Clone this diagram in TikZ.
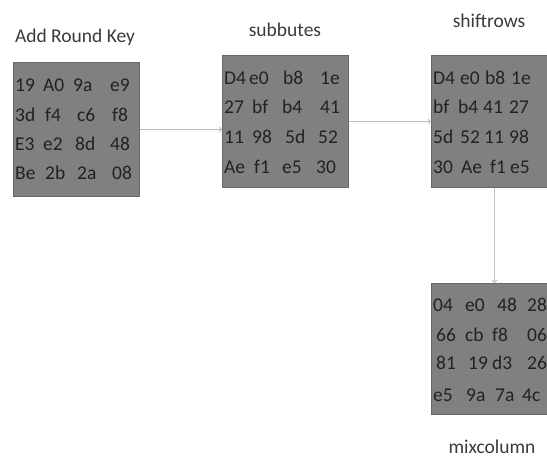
\documentclass[tikz,border=0pt]{standalone}
\usepackage{fontspec}
\setmainfont{Carlito}
\usetikzlibrary{arrows, positioning}
\definecolor{boxgray}{HTML}{808080}
\definecolor{edgegray}{HTML}{686868}
\definecolor{cellgray}{HTML}{222222}
\definecolor{titlegray}{HTML}{3A3A3A}
\definecolor{arrowgray}{HTML}{BEBEBE}

\begin{document}
\begin{tikzpicture}[x=1pt, y=-1pt,
    state/.style={draw=edgegray, fill=boxgray, line width=1pt, anchor=north west,
        inner sep=0pt, minimum width=126pt, minimum height=132pt},
    cell/.style={anchor=west, inner sep=0pt, text=cellgray, font=\fontsize{19.5}{21}\selectfont},
    title/.style={text=titlegray, font=\fontsize{19.5}{21}\selectfont},
    flow/.style={draw=arrowgray, line width=1.1pt, ->}]
    \useasboundingbox (0,0) rectangle (547,461);
    \clip (0,0) rectangle (547,461);

    % State boxes
    \node[state, minimum height=134pt] (addkey) at (13,62) {};
    \node[state] (subbytes) at (222,55) {};
    \node[state] (shiftrows) at (431,55) {};
    \node[state, minimum height=131pt] (mixcol) at (431,283) {};

    % Titles
    \node[title] (addkeyname) at (75,37) {Add Round Key};
    \node[title] (subbytesname) at (285,30) {subbutes};
    \node[title] (shiftrowsname) at (489,21) {shiftrows};
    \node[title] (mixcolname) at (492,447) {mixcolumn};

    % Arrows
    \draw[flow] (addkey.east) -- (addkey.east -| subbytes.west);
    \draw[flow] (subbytes.east) -- (subbytes.east -| shiftrows.west);
    \draw[flow] (shiftrows.south) -- (mixcol.north);

    % Add Round Key bytes
    \foreach \txt/\x [count=\i] in {19/15, A0/43, 9a/73, e9/110}
        \node[cell] (a1-\i) at (\x,85) {\txt};
    \foreach \txt/\x [count=\i] in {3d/15, f4/45, c6/77, f8/112}
        \node[cell] (a2-\i) at (\x,115) {\txt};
    \foreach \txt/\x [count=\i] in {E3/15, e2/43, 8d/75, 48/110}
        \node[cell] (a3-\i) at (\x,144) {\txt};
    \foreach \txt/\x [count=\i] in {Be/15, 2b/45, 2a/77, 08/112}
        \node[cell] (a4-\i) at (\x,173) {\txt};

    % subbutes bytes
    \foreach \txt/\x [count=\i] in {D4/224, e0/249, b8/283, 1e/320}
        \node[cell] (s1-\i) at (\x,78) {\txt};
    \foreach \txt/\x [count=\i] in {27/224, bf/252, b4/282, 41/320}
        \node[cell] (s2-\i) at (\x,107) {\txt};
    \foreach \txt/\x [count=\i] in {11/224, 98/252, 5d/285, 52/318}
        \node[cell] (s3-\i) at (\x,137) {\txt};
    \foreach \txt/\x [count=\i] in {Ae/224, f1/254, e5/282, 30/316}
        \node[cell] (s4-\i) at (\x,167) {\txt};

    % shiftrows bytes
    \foreach \txt/\x [count=\i] in {D4/433, e0/460, b8/485, 1e/511}
        \node[cell] (r1-\i) at (\x,78) {\txt};
    \foreach \txt/\x [count=\i] in {bf/433, b4/458, 41/483, 27/509}
        \node[cell] (r2-\i) at (\x,107) {\txt};
    \foreach \txt/\x [count=\i] in {5d/433, 52/460, 11/484, 98/509}
        \node[cell] (r3-\i) at (\x,137) {\txt};
    \foreach \txt/\x [count=\i] in {30/433, Ae/461, f1/490, e5/510}
        \node[cell] (r4-\i) at (\x,167) {\txt};

    % mixcolumn bytes
    \foreach \txt/\x [count=\i] in {04/433, e0/465, 48/497, 28/527}
        \node[cell] (m1-\i) at (\x,305) {\txt};
    \foreach \txt/\x [count=\i] in {66/436, cb/465, f8/492, 06/527}
        \node[cell] (m2-\i) at (\x,335) {\txt};
    \foreach \txt/\x [count=\i] in {81/436, 19/468, d3/492, 26/527}
        \node[cell] (m3-\i) at (\x,363) {\txt};
    \foreach \txt/\x [count=\i] in {e5/433, 9a/466, 7a/495, 4c/522}
        \node[cell] (m4-\i) at (\x,395) {\txt};
\end{tikzpicture}
\end{document}
